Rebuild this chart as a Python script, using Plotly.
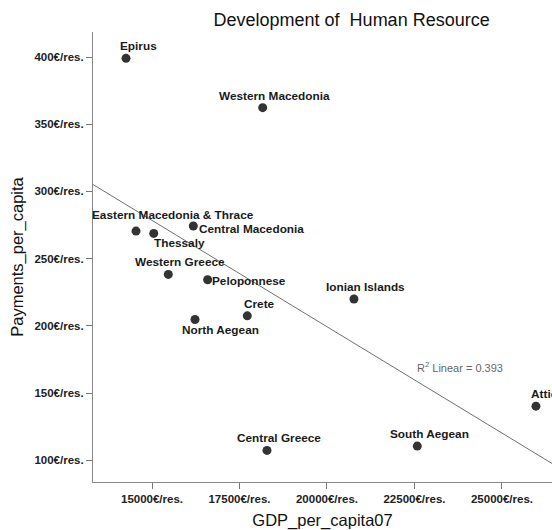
import numpy as np
import plotly.graph_objects as go

regions = ['Epirus', 'Western Macedonia', 'Eastern Macedonia & Thrace', 'Thessaly',
           'Central Macedonia', 'Western Greece', 'Peloponnese', 'Crete', 'North Aegean',
           'Central Greece', 'Ionian Islands', 'South Aegean', 'Attica']
gdp_per_capita = [14257, 18163, 14543, 15049, 16180, 15466, 16590, 17723, 16229,
                  18286, 20771, 22580, 25971]
payments_per_capita = [399, 362.3, 270.5, 268.8, 274.3, 238.3, 234.3, 207.5, 204.8,
                       107.4, 220, 110.6, 140.3]
x_ticks = [15000, 17500, 20000, 22500, 25000]
y_ticks = [100, 150, 200, 250, 300, 350, 400]
r2_text = 'R<sup>2</sup> Linear = 0.393'

x_range = [13314, 26430]
y_range = [83.9, 418.6]

# label offsets in pixels (dx, dy) relative to each point
label_shift = {
    'Eastern Macedonia & Thrace': (37, 16),
    'Central Macedonia': (58, -3),
    'Thessaly': (26, -10),
    'Peloponnese': (41, -1),
    'North Aegean': (25, -11),
}

slope, icpt = np.polyfit(gdp_per_capita, payments_per_capita, 1)
line_x = np.array(x_range)
line_y = slope * line_x + icpt

fig = go.Figure()
fig.add_trace(go.Scatter(x=line_x, y=line_y, mode='lines',
                         line=dict(color='#707070', width=1), hoverinfo='skip'))
fig.add_trace(go.Scatter(x=gdp_per_capita, y=payments_per_capita, mode='markers',
                         marker=dict(color='#333333', size=9), cliponaxis=False))

for name, gx, py in zip(regions, gdp_per_capita, payments_per_capita):
    dx, dy = label_shift.get(name, (12, 12))
    fig.add_annotation(x=gx, y=py, text='<b>' + name + '</b>', showarrow=False,
                       xshift=dx, yshift=dy,
                       font=dict(family='Liberation Sans', size=11.8, color='#1a1a1a'),
                       xanchor='center', yanchor='middle')

fig.add_annotation(x=0.80, y=0.256, xref='paper', yref='paper', text=r2_text,
                   xanchor='center', yanchor='middle', showarrow=False,
                   font=dict(family='Liberation Sans', size=11, color='#666666'))

tick_font = dict(family='Liberation Sans', size=11.5, color='#222222')
fig.update_xaxes(range=x_range, tickvals=x_ticks,
                 ticktext=['<b>%d€/res.</b>' % v for v in x_ticks],
                 tickfont=tick_font, ticks='outside', ticklen=6, tickcolor='#777777',
                 showline=True, linecolor='#888888', linewidth=1, showgrid=False,
                 zeroline=False, automargin=False,
                 title=dict(text='GDP_per_capita07', standoff=10,
                            font=dict(family='Liberation Sans', size=16.5, color='#111111')))
fig.update_yaxes(range=y_range, tickvals=y_ticks,
                 ticktext=['<b>%d€/res.</b>' % v for v in y_ticks],
                 tickfont=tick_font, ticks='outside', ticklen=6, tickcolor='#777777',
                 showline=True, linecolor='#888888', linewidth=1, showgrid=False,
                 zeroline=False, automargin=False,
                 title=dict(text='Payments_per_capita', standoff=6,
                            font=dict(family='Liberation Sans', size=16.5, color='#111111')))

fig.update_layout(
    width=552, height=530,
    showlegend=False,
    template='simple_white',
    title=dict(text='Development of  Human Resource', x=0.637, xanchor='center',
               y=0.962, yanchor='middle',
               font=dict(family='Liberation Sans', size=18, color='#111111')),
    margin=dict(l=93, r=0, t=32, b=48),
    plot_bgcolor='white', paper_bgcolor='white',
)

fig.write_html('out.html', config={'displayModeBar': False},
               post_script="document.body.style.margin='0';document.body.style.overflow='hidden';")
